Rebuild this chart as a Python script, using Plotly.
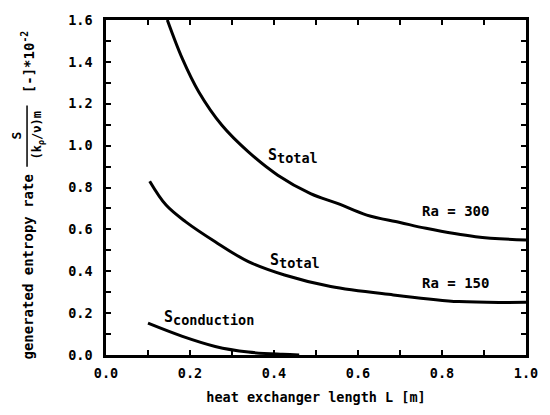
import plotly.graph_objects as go

# Ra = 300, total entropy generation
L_300 = [0.146, 0.182, 0.221, 0.276, 0.339, 0.409, 0.487, 0.551, 0.621, 0.70, 0.762, 0.88, 1.0]
S_300 = [1.60, 1.414, 1.256, 1.097, 0.970, 0.859, 0.771, 0.724, 0.668, 0.633, 0.605, 0.565, 0.549]

# Ra = 150, total entropy generation
L_150 = [0.104, 0.143, 0.19, 0.26, 0.339, 0.425, 0.535, 0.684, 0.84, 1.0]
S_150 = [0.830, 0.716, 0.636, 0.541, 0.446, 0.382, 0.327, 0.287, 0.255, 0.252]

# conduction part
L_cond = [0.10, 0.182, 0.26, 0.339, 0.42, 0.46]
S_cond = [0.152, 0.089, 0.041, 0.014, 0.003, 0.0]

x_ticks = [0.0, 0.2, 0.4, 0.6, 0.8, 1.0]
y_ticks = [0.0, 0.2, 0.4, 0.6, 0.8, 1.0, 1.2, 1.4, 1.6]

FONT = "DejaVu Sans Mono"
line = dict(color="black", width=3, shape="spline")

fig = go.Figure()
fig.add_trace(go.Scatter(x=L_300, y=S_300, mode="lines", line=line))
fig.add_trace(go.Scatter(x=L_150, y=S_150, mode="lines", line=line))
fig.add_trace(go.Scatter(x=L_cond, y=S_cond, mode="lines", line=line))

ax = dict(showline=True, linecolor="black", linewidth=2.5, mirror="allticks",
          ticks="inside", ticklen=5, tickwidth=2, tickcolor="black",
          showgrid=False, zeroline=False, tickformat=".1f",
          minor=dict(ticks="inside", ticklen=5, tickwidth=2, tickcolor="black", dtick=0.1),
          tickfont=dict(family=FONT, size=13.5, color="black", weight="bold"))

fig.update_xaxes(ax, range=[0, 1.0], tickvals=x_ticks, ticklabelstandoff=4,
                 title=dict(text="heat exchanger length L [m]", standoff=13,
                            font=dict(family=FONT, size=13.5, color="black", weight="bold")))
fig.update_yaxes(ax, range=[0, 1.6], tickvals=y_ticks, ticklabelstandoff=8)

tf = dict(family=FONT, size=15, color="black", weight="bold")
sub = "<sub><span style='font-size:13.5px'>%s</span></sub>"
notes = [
    (0.381, 0.95, "S" + sub % "total", "left"),
    (0.386, 0.448, "S" + sub % "total", "left"),
    (0.134, 0.176, "S" + sub % "conduction", "left"),
    (0.831, 0.686, "Ra = 300", "center"),
    (0.831, 0.343, "Ra = 150", "center"),
]
for x, y, t, xa in notes:
    fig.add_annotation(x=x, y=y, text=t, showarrow=False, xanchor=xa, yanchor="middle",
                       font=tf if t.startswith("S") else dict(tf, size=14))

# y axis title, built in pieces around the fraction
yt = dict(family=FONT, size=14, color="black", weight="bold")
pieces = [
    (-0.185, 0.262, "generated entropy rate", 14),
    (-0.212, 0.655, "S", 13),
    (-0.162, 0.655, "(k<sub>ρ</sub>/ν)m", 12),
    (-0.185, 0.875, "[-]*10<sup>-2</sup>", 14),
]
for x, y, t, s in pieces:
    fig.add_annotation(xref="paper", yref="paper", x=x, y=y, text=t, textangle=-90,
                       xanchor="center", yanchor="middle", showarrow=False, font=dict(yt, size=s))
fig.add_shape(type="line", xref="paper", yref="paper", x0=-0.188, x1=-0.188, y0=0.562, y1=0.745,
              line=dict(color="black", width=1.5))

fig.update_layout(width=550, height=415, showlegend=False,
                  plot_bgcolor="white", paper_bgcolor="white",
                  margin=dict(l=106, r=18, t=20, b=59))

# drop the page's default body margin so the figure sits at the window corner
fig.write_html("out.html", config={"displayModeBar": False},
               post_script="document.body.style.margin='0';")
